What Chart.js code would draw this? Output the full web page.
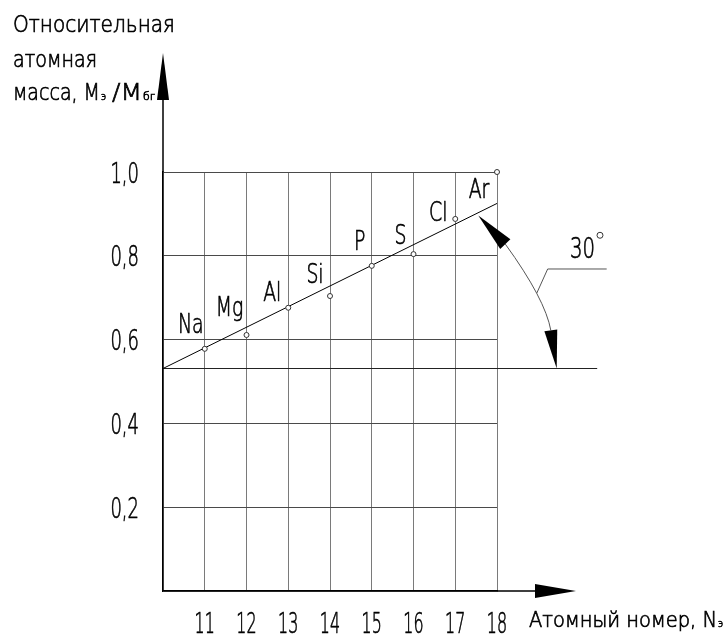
<!DOCTYPE html>
<html>
<head>
<meta charset="utf-8">
<script src="https://cdn.jsdelivr.net/npm/chart.js@4.4.0/dist/chart.umd.min.js"></script>
<style>
  html, body { margin: 0; padding: 0; background: #fff; }
  #wrap { width: 727px; height: 635px; position: relative; }
</style>
</head>
<body>
<div id="wrap"><canvas id="canvas"></canvas></div>
<script>
// data
const elements = ["Na", "Mg", "Al", "Si", "P", "S", "Cl", "Ar"];
const atomicNumbers = [11, 12, 13, 14, 15, 16, 17, 18];
const relativeMass = [0.578, 0.611, 0.676, 0.704, 0.776, 0.804, 0.888, 1.0];
const trendX = [10, 18];
const trendY = [0.531, 0.925];
const baseX = [10, 20.4];
const baseY = [0.531, 0.531];
const xTicks = [11, 12, 13, 14, 15, 16, 17, 18];
const yTicks = [0.2, 0.4, 0.6, 0.8, 1.0];
const yTickLabels = ["0,2", "0,4", "0,6", "0,8", "1,0"];
const angleText = "30";

// the drawing uses a narrow drafting font, so text is squeezed sideways
const FONT = '"DejaVu Sans", sans-serif';
const WEIGHT = "200";

// label nudges in px (dx, baseline dy) relative to each point
const labelShift = [[-14, -16], [-17, -19], [-16, -7], [-15, -13], [-12, -16], [-13, -10], [-17, 2], [-18, 26]];

function drawText(ctx, str, x, y, size, opts) {
    ctx.font = WEIGHT + " " + size + "px " + FONT;
    const w = ctx.measureText(str).width;
    const sx = opts.width ? opts.width / w : opts.sx;
    ctx.save();
    ctx.translate(x, y);
    ctx.scale(sx, 1);
    ctx.textAlign = opts.align || "left";
    ctx.textBaseline = "alphabetic";
    ctx.fillText(str, 0, 0);
    ctx.lineWidth = 0.7;
    ctx.strokeStyle = ctx.fillStyle;
    ctx.strokeText(str, 0, 0);
    ctx.restore();
    return w * sx;
}

function arrowHead(ctx, tx, ty, bx, by, halfW) {
    const dx = tx - bx, dy = ty - by;
    const len = Math.hypot(dx, dy);
    const nx = -dy / len, ny = dx / len;
    ctx.beginPath();
    ctx.moveTo(tx, ty);
    ctx.lineTo(bx + nx * halfW, by + ny * halfW);
    ctx.lineTo(bx - nx * halfW, by - ny * halfW);
    ctx.closePath();
    ctx.fill();
}

const drawingPlugin = {
    id: "drawing",
    afterDraw(chart) {
        const ctx = chart.ctx;
        const a = chart.chartArea;
        const xs = chart.scales.x, ys = chart.scales.y;
        const px = v => xs.getPixelForValue(v);
        const py = v => ys.getPixelForValue(v);

        ctx.save();
        ctx.fillStyle = "#000";
        ctx.strokeStyle = "#000";

        // axis extensions with arrows
        ctx.lineWidth = 1.5;
        ctx.beginPath();
        ctx.moveTo(a.left, a.top);
        ctx.lineTo(a.left, a.top - 80);
        ctx.moveTo(a.right, a.bottom);
        ctx.lineTo(a.right + 40, a.bottom);
        ctx.stroke();
        arrowHead(ctx, a.left, a.top - 119, a.left, a.top - 72, 6);
        arrowHead(ctx, a.right + 79, a.bottom, a.right + 38, a.bottom, 7);

        // tick labels
        xTicks.forEach(v => drawText(ctx, String(v), px(v), a.bottom + 42, 29, { sx: 0.55, align: "center" }));
        yTicks.forEach((v, i) => drawText(ctx, yTickLabels[i], a.left - 24, py(v) + 10.5, 29, { sx: 0.62, align: "right" }));

        // element labels
        elements.forEach((el, i) => {
            const x = px(atomicNumbers[i]) + labelShift[i][0];
            const y = py(relativeMass[i]) + labelShift[i][1];
            drawText(ctx, el, x, y, 27, { sx: 0.7, align: "center" });
        });

        // y axis title
        drawText(ctx, "Относительная", 13, 32, 23, { width: 162 });
        drawText(ctx, "атомная", 13, 67, 23, { width: 84 });
        drawText(ctx, "масса, M", 13, 100, 23, { width: 87 });
        drawText(ctx, "э", 101, 100, 10, { width: 5 });
        drawText(ctx, "/M", 112, 100, 23, { width: 30 });
        drawText(ctx, "бг", 143, 100, 10, { width: 12 });

        // x axis title
        drawText(ctx, "Атомный номер, N", 529, 627, 21, { width: 188 });
        drawText(ctx, "э", 718, 627, 10, { width: 5 });

        // 30 degree annotation
        const up = [px(17.552), py(0.896)], upBase = [px(18.199), py(0.828)];
        const lo = [px(19.43), py(0.531)], loBase = [px(19.289), py(0.622)];
        const mid = [px(18.951), py(0.7105)];
        const ctrl = [2 * mid[0] - (upBase[0] + loBase[0]) / 2, 2 * mid[1] - (upBase[1] + loBase[1]) / 2];
        ctx.lineWidth = 1;
        ctx.strokeStyle = "#555";
        ctx.beginPath();
        ctx.moveTo(upBase[0], upBase[1]);
        ctx.quadraticCurveTo(ctrl[0], ctrl[1], loBase[0], loBase[1]);
        ctx.moveTo(mid[0], mid[1]);
        ctx.lineTo(px(19.214), py(0.7685));
        ctx.lineTo(px(20.627), py(0.7685));
        ctx.stroke();
        arrowHead(ctx, up[0], up[1], upBase[0], upBase[1], 7);
        arrowHead(ctx, lo[0], lo[1], loBase[0], loBase[1], 6.5);

        drawText(ctx, angleText, px(19.748), py(0.795), 29, { width: 25 });
        ctx.lineWidth = 1;
        ctx.strokeStyle = "#333";
        ctx.beginPath();
        ctx.arc(px(20.467), py(0.849), 3, 0, Math.PI * 2);
        ctx.stroke();

        ctx.restore();
    }
};

const canvas = document.getElementById("canvas");

const myChart = new Chart(canvas.getContext("2d"), {
    type: "scatter",
    data: {
        datasets: [{
            label: "points",
            data: atomicNumbers.map((n, i) => ({ x: n, y: relativeMass[i] })),
            pointRadius: 2.5,
            pointBorderWidth: 1,
            pointBorderColor: "#333",
            pointBackgroundColor: "#fff",
            showLine: false,
            clip: false
        }, {
            label: "trend",
            data: trendX.map((v, i) => ({ x: v, y: trendY[i] })),
            showLine: true,
            pointRadius: 0,
            borderColor: "#000",
            borderWidth: 1
        }, {
            label: "base",
            data: baseX.map((v, i) => ({ x: v, y: baseY[i] })),
            showLine: true,
            pointRadius: 0,
            borderColor: "#222",
            borderWidth: 1,
            clip: false
        }]
    },
    options: {
        responsive: true,
        maintainAspectRatio: false,
        animation: false,
        layout: { padding: { top: 172, right: 230, left: 0, bottom: 0 } },
        plugins: {
            legend: { display: false },
            tooltip: { enabled: false }
        },
        scales: {
            x: {
                type: "linear",
                min: 10,
                max: 18,
                afterBuildTicks: s => { s.ticks = [10].concat(xTicks).map(v => ({ value: v })); },
                afterFit: s => { s.height = 44; },
                grid: { color: "#7a7a7a", lineWidth: 1, drawTicks: false },
                border: { color: "#000", width: 1.5 },
                ticks: { display: false }
            },
            y: {
                min: 0,
                max: 1,
                afterBuildTicks: s => { s.ticks = [0].concat(yTicks).map(v => ({ value: v })); },
                afterFit: s => { s.width = 163; },
                grid: { color: "#4a4a4a", lineWidth: 1, drawTicks: false },
                border: { color: "#000", width: 1.5 },
                ticks: { display: false }
            }
        }
    },
    plugins: [drawingPlugin]
});
</script>
</body>
</html>
